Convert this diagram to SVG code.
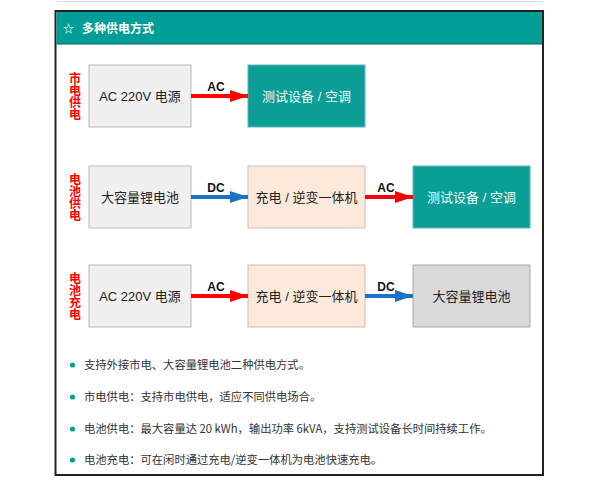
<svg xmlns="http://www.w3.org/2000/svg" width="600" height="482" viewBox="0 0 600 482">
<defs>
<marker id="ar" viewBox="0 0 18 12" markerWidth="18" markerHeight="12" refX="18" refY="6" orient="auto" markerUnits="userSpaceOnUse"><path d="M0,0 L18,6 L0,12 Z" fill="#ff0000"/></marker>
<marker id="ab" viewBox="0 0 18 12" markerWidth="18" markerHeight="12" refX="18" refY="6" orient="auto" markerUnits="userSpaceOnUse"><path d="M0,0 L18,6 L0,12 Z" fill="#1a73c6"/></marker>
<style>
text{font-family:"Liberation Sans","Noto Sans CJK SC",sans-serif}
.g{fill:#f0f0f0;stroke:#bcbcbc;stroke-width:1}
.p{fill:#fce9da;stroke:#c9c0b8;stroke-width:1}
.t{fill:#0a9e96;stroke:#5fb9b2;stroke-width:1}
.d{fill:#d9d9d9;stroke:#a8a8a8;stroke-width:1}
.nt{font-size:13px;fill:#222;text-anchor:middle}
.wt{font-size:13px;fill:#eefaf8;text-anchor:middle}
.red{stroke:#ff0000;stroke-width:4;fill:none;marker-end:url(#ar)}
.blue{stroke:#1a73c6;stroke-width:4;fill:none;marker-end:url(#ab)}
.al{font-size:12px;font-weight:bold;fill:#111;text-anchor:middle}
.side{font-size:12px;font-weight:bold;fill:#ff0000;writing-mode:vertical-rl;text-orientation:upright;font-family:"Noto Sans CJK SC",sans-serif}
.bt{font-size:11.3px;fill:#333;font-family:"Noto Sans CJK SC",sans-serif}
.dot{fill:#0a9e96}
</style>
</defs>
<line x1="57" y1="1.5" x2="543" y2="1.5" stroke="#dddddd" stroke-width="1"/>
<rect x="55.5" y="11" width="487.5" height="464" fill="#ffffff" stroke="#222222" stroke-width="2"/>
<g id="header">
<rect x="56.5" y="12" width="485.5" height="32" fill="#009e96"/>
<line x1="56.5" y1="44" x2="542" y2="44" stroke="#16605b" stroke-width="1"/>
<text x="63" y="33" font-size="11" font-weight="bold" fill="#ffffff" font-family="DejaVu Sans, sans-serif">☆</text>
<text x="82" y="33" font-size="12" font-weight="bold" fill="#ffffff" style="font-family:'Noto Sans CJK SC',sans-serif">多种供电方式</text>
</g>
<g id="side-labels">
<text class="side" x="75" y="72">市电供电</text>
<text class="side" x="75" y="173">电池供电</text>
<text class="side" x="75" y="272">电池充电</text>
</g>
<g id="r1-ac"><rect class="g" x="89" y="65" width="102" height="62"/><text class="nt" x="140" y="100.5">AC 220V 电源</text></g>
<g id="r1-dev"><rect class="t" x="248" y="65" width="117" height="62"/><text class="wt" x="306.5" y="100.5">测试设备 / 空调</text></g>
<g id="r2-bat"><rect class="g" x="89" y="166" width="102" height="62"/><text class="nt" x="140" y="201.5">大容量锂电池</text></g>
<g id="r2-inv"><rect class="p" x="248" y="166" width="117" height="62"/><text class="nt" x="306.5" y="201.5">充电 / 逆变一体机</text></g>
<g id="r2-dev"><rect class="t" x="413" y="166" width="117" height="62"/><text class="wt" x="471.5" y="201.5">测试设备 / 空调</text></g>
<g id="r3-ac"><rect class="g" x="89" y="265" width="102" height="62"/><text class="nt" x="140" y="300.5">AC 220V 电源</text></g>
<g id="r3-inv"><rect class="p" x="248" y="265" width="117" height="62"/><text class="nt" x="306.5" y="300.5">充电 / 逆变一体机</text></g>
<g id="r3-bat"><rect class="d" x="413" y="265" width="117" height="62"/><text class="nt" x="471.5" y="300.5">大容量锂电池</text></g>
<g id="connectors">
<line class="red" x1="191" y1="96" x2="248" y2="96"/><text class="al" x="216" y="91">AC</text>
<line class="blue" x1="191" y1="197" x2="248" y2="197"/><text class="al" x="216" y="192">DC</text>
<line class="red" x1="365" y1="197" x2="413" y2="197"/><text class="al" x="386" y="192">AC</text>
<line class="red" x1="191" y1="296" x2="248" y2="296"/><text class="al" x="216" y="291">AC</text>
<line class="blue" x1="365" y1="296" x2="413" y2="296"/><text class="al" x="386" y="291">DC</text>
</g>
<g id="bullets">
<circle class="dot" cx="72.5" cy="365" r="2.6"/><text class="bt" x="84" y="369">支持外接市电、大容量锂电池二种供电方式。</text>
<circle class="dot" cx="72.5" cy="397" r="2.6"/><text class="bt" x="84" y="401">市电供电：支持市电供电，适应不同供电场合。</text>
<circle class="dot" cx="72.5" cy="429" r="2.6"/><text class="bt" x="84" y="433">电池供电：最大容量达 20 kWh，输出功率 6kVA，支持测试设备长时间持续工作。</text>
<circle class="dot" cx="72.5" cy="460" r="2.6"/><text class="bt" x="84" y="464">电池充电：可在闲时通过充电/逆变一体机为电池快速充电。</text>
</g>
</svg>
